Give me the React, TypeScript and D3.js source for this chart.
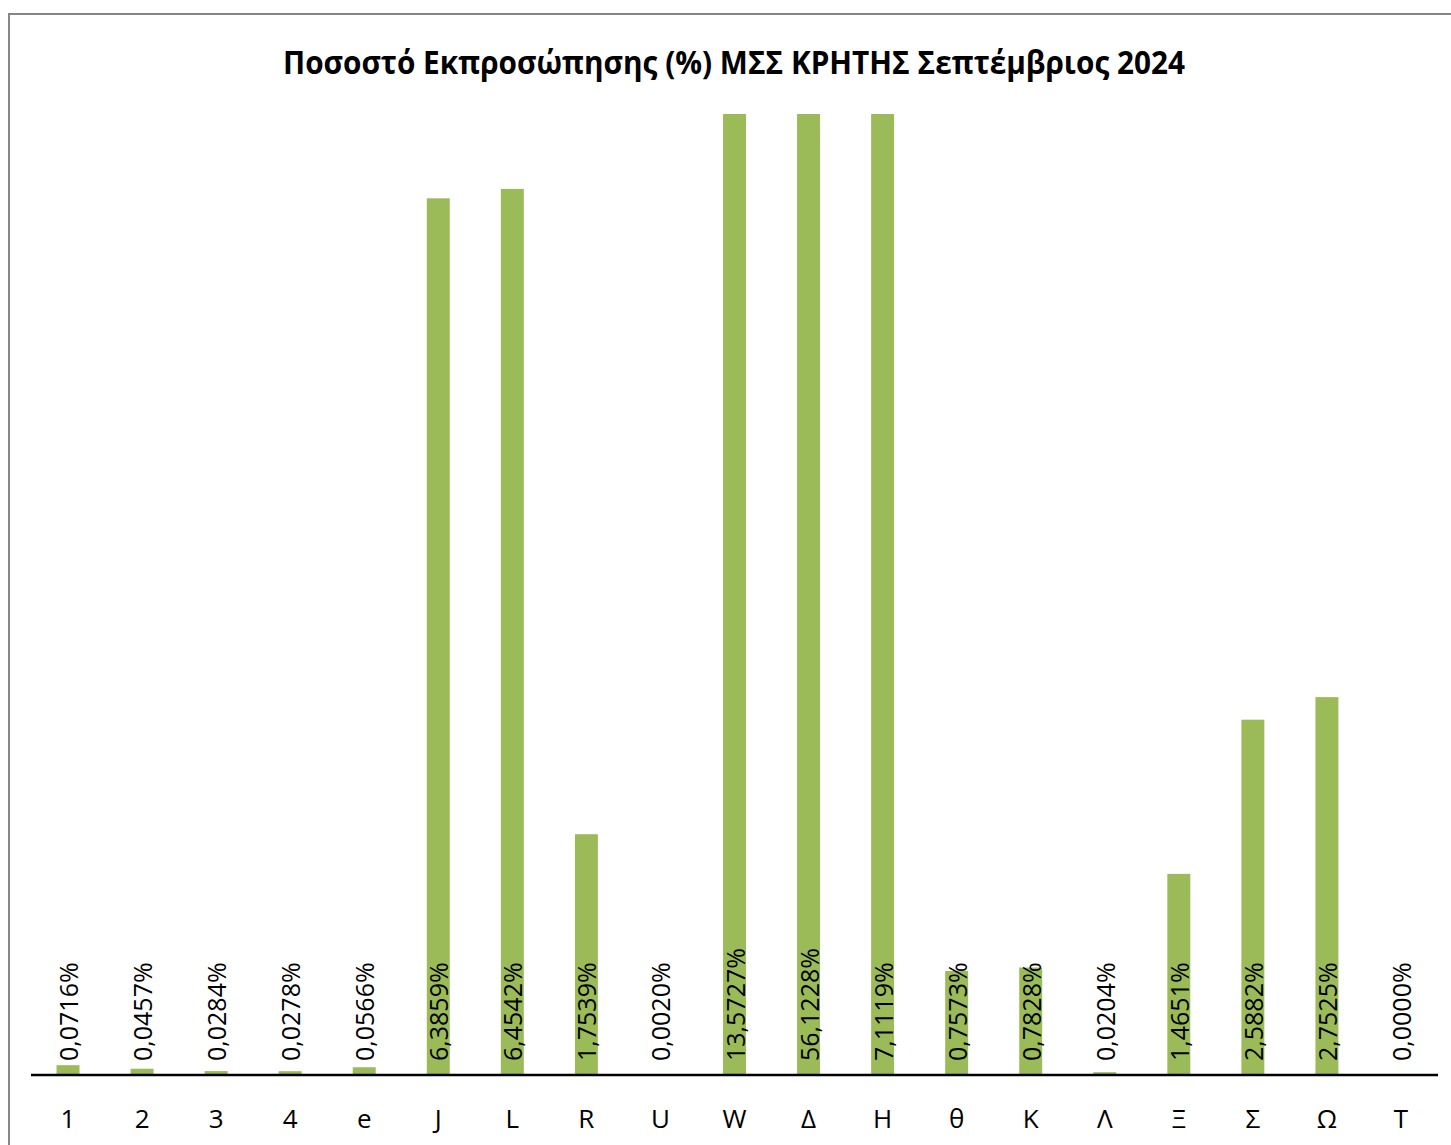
import React from "react";
import * as d3 from "d3";

const categories = ["1", "2", "3", "4", "e", "J", "L", "R", "U", "W", "Δ", "Η", "θ", "Κ", "Λ", "Ξ", "Σ", "Ω", "Τ"];
const values = [0.0716, 0.0457, 0.0284, 0.0278, 0.0566, 6.3859, 6.4542, 1.7539, 0.002, 13.5727, 56.1228, 7.1119, 0.7573, 0.7828, 0.0204, 1.4651, 2.5882, 2.7525, 0.0];
const yMax = 7;

const title = "Ποσοστό Εκπροσώπησης (%) ΜΣΣ ΚΡΗΤΗΣ Σεπτέμβριος 2024";

const W = 1451;
const H = 1145;
const font = "'Open Sans', 'DejaVu Sans', sans-serif";

const formatPct = (v: number): string => v.toFixed(4).replace(".", ",") + "%";

const App = () => {
    const x = d3.scaleBand<string>().domain(categories).range([31, 1438]).paddingInner(0.69).paddingOuter(0.345);
    const y = d3.scaleLinear().domain([0, yMax]).range([1075, 114]);

    return (
        <div style={{ position: "absolute", left: 0, top: 0 }}>
            <svg width={W} height={H} style={{ display: "block", background: "#fff" }}>
                <rect x={9} y={14} width={W + 20} height={H + 20} fill="#fff" stroke="#868686" strokeWidth={2} />
                <text
                    x={734}
                    y={74}
                    textAnchor="middle"
                    fontFamily={font}
                    fontWeight="bold"
                    fontSize={33}
                    textLength={902}
                    lengthAdjust="spacingAndGlyphs"
                    fill="#000"
                >
                    {title}
                </text>
                {categories.map((c, i) => {
                    const v = Math.min(values[i], yMax);
                    return (
                        <rect key={c} x={x(c)} y={y(v)} width={x.bandwidth()} height={y(0) - y(v)} fill="#9BBB59" />
                    );
                })}
                <line x1={31} x2={1438} y1={y(0)} y2={y(0)} stroke="#000" strokeWidth={2.5} />
                {categories.map((c, i) => {
                    const cx = (x(c) as number) + x.bandwidth() / 2 + 1;
                    return (
                        <text
                            key={"l" + c}
                            transform={`translate(${cx},${1061}) rotate(-90)`}
                            dy="0.36em"
                            textAnchor="start"
                            fontFamily={font}
                            fontSize={25}
                            fill="#000"
                        >
                            {formatPct(values[i])}
                        </text>
                    );
                })}
                {categories.map((c) => (
                    <text
                        key={"c" + c}
                        x={(x(c) as number) + x.bandwidth() / 2}
                        y={1128}
                        textAnchor="middle"
                        fontFamily={font}
                        fontSize={26}
                        fill="#000"
                    >
                        {c}
                    </text>
                ))}
            </svg>
        </div>
    );
};

export default App;
